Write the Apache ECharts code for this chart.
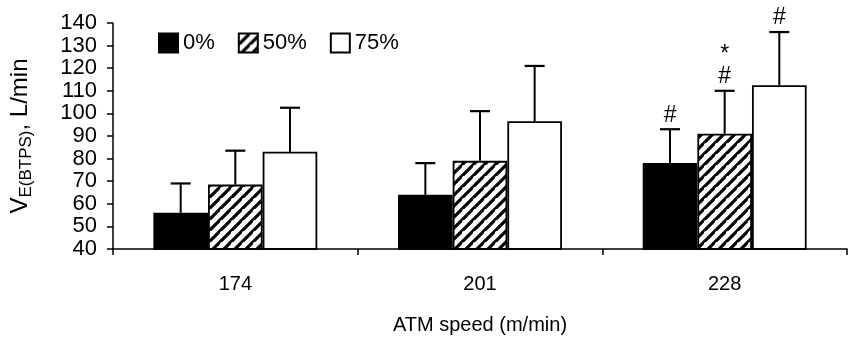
<!DOCTYPE html>
<html><head><meta charset="utf-8">
<script src="https://cdn.jsdelivr.net/npm/echarts@6/dist/echarts.min.js"></script>
<style>html,body{margin:0;padding:0;background:#fff}#c{width:849px;height:341px}</style>
</head><body><div id="c"></div>
<script>
var categories = ['174', '201', '228'];
var seriesNames = ['0%', '50%', '75%'];
var mean0 = [56, 64, 78];
var mean50 = [68.5, 79, 91];
var mean75 = [83, 96.5, 112.5];
var sd0 = [13, 14, 15];
var sd50 = [15, 22, 19];
var sd75 = [19.5, 24.5, 23.5];
var ann0 = ['', '', '#'];
var ann50 = ['', '', '*\n#'];
var ann75 = ['', '', '#'];
var yTicks = [40, 50, 60, 70, 80, 90, 100, 110, 120, 130, 140];

var FONT = '"Liberation Sans", Arial, sans-serif';
var GAP = 0.33;

// hatch pattern
var pc = document.createElement('canvas');
pc.width = 11; pc.height = 11;
var g = pc.getContext('2d');
g.fillStyle = '#fff'; g.fillRect(0, 0, 11, 11);
g.strokeStyle = '#000'; g.lineWidth = 3.2;
g.beginPath();
g.moveTo(-1, 12); g.lineTo(12, -1);
g.moveTo(-6.5, 5.5); g.lineTo(5.5, -6.5);
g.moveTo(5.5, 16.5); g.lineTo(16.5, 5.5);
g.stroke();
var hatch = { image: pc, repeat: 'repeat' };

var fills = ['#000', hatch, '#fff'];
var means = [mean0, mean50, mean75];
var sds = [sd0, sd50, sd75];
var anns = [ann0, ann50, ann75];

var series = [];
for (var k = 0; k < 3; k++) {
  series.push({
    name: seriesNames[k], type: 'bar', data: means[k],
    barGap: '0%', barCategoryGap: (GAP * 100) + '%',
    itemStyle: { color: fills[k], borderColor: '#000', borderWidth: 1.8 },
    emphasis: { disabled: true }, z: 2
  });
}
for (var k2 = 0; k2 < 3; k2++) {
  (function (k) {
    var d = [];
    for (var i = 0; i < categories.length; i++) d.push([i, means[k][i], sds[k][i]]);
    series.push({
      type: 'custom', name: 'err' + k, z: 5, silent: true,
      encode: { x: 0, y: 1 },
      data: d,
      renderItem: function (params, api) {
        var ci = api.value(0), m = api.value(1), sd = api.value(2);
        var base = api.coord([ci, m]);
        var top = api.coord([ci, m + sd]);
        var band = api.size([1, 0])[0];
        var bw = band * (1 - GAP) / 3;
        var x = base[0] + (k - 1) * bw;
        var capW = 10;
        var children = [
          { type: 'line', shape: { x1: x, y1: base[1], x2: x, y2: top[1] }, style: { stroke: '#000', lineWidth: 2 } },
          { type: 'line', shape: { x1: x - capW, y1: top[1], x2: x + capW, y2: top[1] }, style: { stroke: '#000', lineWidth: 2.2 } }
        ];
        var t = anns[k][params.dataIndex];
        if (t) {
          children.push({ type: 'text', x: x, y: top[1] - 3,
            style: { text: t, fill: '#000', font: '23px ' + FONT, align: 'center', verticalAlign: 'bottom', lineHeight: 22 } });
        }
        return { type: 'group', children: children };
      }
    });
  })(k2);
}

var chart = echarts.init(document.getElementById('c'));
chart.setOption({
  animation: false,
  backgroundColor: '#fff',
  textStyle: { fontFamily: FONT },
  grid: { left: 107, right: 2, top: 23, bottom: 92 },
  legend: {
    data: seriesNames, left: 158, top: 32, padding: 0,
    itemWidth: 19, itemHeight: 19, itemGap: 23, icon: 'rect',
    textStyle: { fontSize: 22, color: '#000', fontFamily: FONT, padding: [0, 0, 0, 0] },
    selectedMode: false
  },
  xAxis: {
    type: 'category', data: categories,
    axisLine: { lineStyle: { color: '#000', width: 1.5 } },
    axisTick: { show: true, length: 6, lineStyle: { color: '#000', width: 1.5 } },
    axisLabel: { fontSize: 20, color: '#000', margin: 25, fontFamily: FONT },
    name: 'ATM speed (m/min)', nameLocation: 'middle', nameGap: 66,
    nameTextStyle: { fontSize: 20, color: '#000', fontFamily: FONT }
  },
  yAxis: {
    type: 'value', min: yTicks[0], max: yTicks[yTicks.length - 1], interval: yTicks[1] - yTicks[0],
    splitLine: { show: false },
    axisLine: { show: true, lineStyle: { color: '#000', width: 1.5 } },
    axisTick: { show: true, length: 6, lineStyle: { color: '#000', width: 1.5 } },
    axisLabel: { fontSize: 22, color: '#000', margin: 16, fontFamily: FONT },
    name: '{v|V}{s|E(BTPS)}{v|, L/min}', nameLocation: 'middle', nameGap: 78, nameRotate: 90,
    nameTextStyle: {
      rich: {
        v: { fontSize: 24, color: '#000', fontFamily: FONT, lineHeight: 30, verticalAlign: 'middle' },
        s: { fontSize: 17, color: '#000', fontFamily: FONT, lineHeight: 30, verticalAlign: 'bottom' }
      }
    }
  },
  series: series
});
</script>
</body></html>
